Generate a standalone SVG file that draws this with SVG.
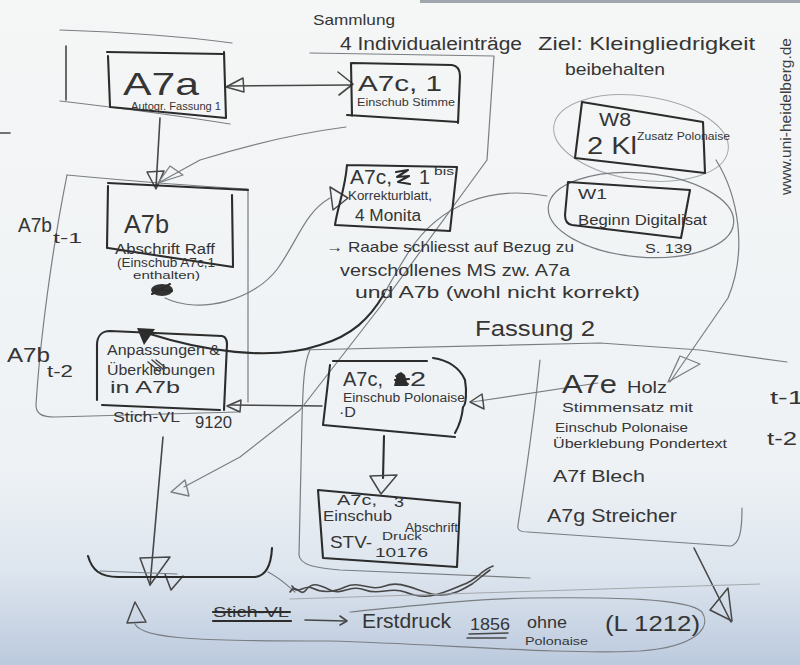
<svg xmlns="http://www.w3.org/2000/svg" width="800" height="665" viewBox="0 0 800 665">
<defs>
<linearGradient id="paper" x1="0" y1="0" x2="0" y2="1">
<stop offset="0" stop-color="#f5f6f6"/>
<stop offset="0.7" stop-color="#eef2f5"/>
<stop offset="0.86" stop-color="#dde5ee"/>
<stop offset="1" stop-color="#bccade"/>
</linearGradient>
<style>
.t{font-family:"Liberation Sans",Arial,sans-serif;fill:#353535}
.ln{fill:none;stroke:#474747;stroke-width:1.6;stroke-linecap:round;stroke-linejoin:round}
.dk{fill:none;stroke:#2c2c2c;stroke-width:2.1;stroke-linecap:round;stroke-linejoin:round}
.md{fill:none;stroke:#7a7e83;stroke-width:1.2;stroke-linecap:round;stroke-linejoin:round}
.fa{fill:none;stroke:#a4a8ac;stroke-width:1;stroke-linecap:round;stroke-linejoin:round}
.hd{fill:none;stroke:#474747;stroke-width:1.5;stroke-linejoin:round}
.hm{fill:none;stroke:#7a7e83;stroke-width:1.3;stroke-linejoin:round}
.wm{font-family:"Liberation Sans",Arial,sans-serif;fill:#3d3d3d;font-size:14px}
</style>
</defs>

<!-- paper sheet -->
<rect width="800" height="665" fill="url(#paper)"/>
<rect x="420" y="0" width="380" height="3" fill="#a0a6ae"/>
<path class="ln" d="M0 133 L10 133"/>
<text class="wm" transform="translate(791,195) rotate(-90)" textLength="157" lengthAdjust="spacingAndGlyphs">www.uni-heidelberg.de</text>

<!-- region outlines -->
<g id="regions">
  <!-- Fassung 1 frame round A7a -->
  <path class="md" d="M60 30 C120 32 180 36 232 43"/>
  <path class="ln" d="M66 46 L66 100"/>
  <path class="md" d="M60 101 C120 108 180 116 230 124"/>
  <!-- A7b frame -->
  <path class="md" d="M67 175 C110 179 190 186 248 189 L248 402"/>
  <path class="md" d="M67 175 C52 250 40 340 36 405 C36 414 42 417 55 417 L238 412"/>
  <!-- Fassung 2 frame -->
  <path class="md" d="M300 350 L600 343 L700 350 L787 362"/>
  <path class="md" d="M310 350 C304 362 303 385 302 420 L299 555 C300 565 315 568 340 570 L530 578"/>
  <!-- A7e / A7f / A7g frame -->
  <path class="md" d="M540 360 C536 400 525 480 518 525 C517 530 520 532 528 532 L730 546 C740 545 742 530 742 508"/>
  <!-- W8 / W1 ovals -->
  <ellipse class="fa" cx="641" cy="138" rx="88" ry="42" transform="rotate(8 641 138)"/>
  <ellipse class="md" cx="641" cy="215" rx="93" ry="42" transform="rotate(5 641 215)"/>
  <!-- bottom oval round the print -->
  <path class="md" d="M135 624 C142 640 210 641 330 641 C440 644 560 655 640 651 C695 647 712 628 702 612 C688 598 610 597 530 598 C470 599 410 606 350 612"/>
</g>

<!-- connectors -->
<g id="connectors">
  <!-- A7a <-> A7c,1 -->
  <path class="ln" d="M228 86 L351 85"/>
  <polygon class="hd" points="226,87 243,78 244,92"/>
  <path class="ln" d="M338 72 L353 84 L339 95"/>
  <!-- A7a -> A7b -->
  <path class="ln" d="M160 118 L156 187"/>
  <polygon class="hd" points="147,172 164,171 156,189"/>
  <!-- A7c,1 -> A7b -->
  <path class="md" d="M346 127 C300 133 245 146 200 160 L160 182"/>
  <polygon class="hm" points="158,183 170,166 183,175"/>
  <!-- A7b -> Korrekturblatt -->
  <path class="md" d="M165 298 C200 315 255 300 278 268 C298 240 305 212 330 198"/>
  <polygon class="hd" points="348,198 330,187 333,210"/>
  <!-- W1 -> Anpassungen -->
  <path class="md" d="M547 196 C490 185 440 205 410 250 C400 265 392 280 384 294"/>
  <path class="dk" d="M384 294 C370 318 352 336 320 345 C270 362 200 350 150 334"/>
  <polygon points="137,328 155,329 144,345" fill="#2c2c2c"/>
  <!-- A7c,2 -> Anpassungen -->
  <path class="ln" d="M322 406 L230 405"/>
  <polygon class="hd" points="227,406 241,400 240,412"/>
  <!-- A7e -> A7c,2 -->
  <path class="md" d="M598 383 L472 402"/>
  <polygon class="hd" points="470,402 482,394 484,409"/>
  <!-- A7c,2 -> A7c,3 -->
  <path class="dk" d="M384 436 L383 478"/>
  <polygon class="hd" points="370,476 397,475 381,494"/>
  <!-- Sammlung line down to A7b -->
  <path class="md" d="M310 53 L494 56 L487 160 L380 307 L300 410 L240 457 L184 487"/>
  <polygon class="hm" points="171,492 185,480 189,496"/>
  <!-- W8 -> A7e -->
  <path class="md" d="M716 160 C738 195 748 250 728 298 L670 382"/>
  <polygon class="hm" points="668,382 680,356 700,364"/>
  <!-- Fassung 2 -> down -->
  <path class="ln" d="M694 548 L731 622"/>
  <polygon class="hd" points="710,610 728,588 732,621"/>
  <!-- Stich-VL -> junction -->
  <path class="ln" d="M163 437 L150 585"/>
  <polygon class="hd" points="140,558 170,557 150,585"/>
  <path class="ln" d="M165 574 L171 590 L183 576"/>
  <!-- junction bracket -->
  <path class="dk" d="M88 556 C92 570 100 577 118 577 L255 577 C265 576 271 567 272 548"/>
  <path class="md" d="M100 571 L177 574"/>
  <path class="md" d="M268 572 C280 578 288 586 295 592"/>
  <path class="ln" d="M290 592 C296 582 300 598 306 590 S318 584 330 590 S350 584 365 590 S390 586 405 592 S430 598 450 590 S470 582 478 576 C482 572 488 568 493 566"/>
  <path class="ln" d="M292 586 C298 596 304 584 312 588 S330 594 345 587 S370 592 385 586 S415 590 432 594 S462 590 472 584 C478 580 484 574 490 570"/>
  <path class="fa" d="M290 599 L760 584"/>
  <!-- print arrow -->
  <path class="ln" d="M305 620 L346 621"/>
  <path class="ln" d="M340 616 L347 621 L340 625"/>
  <polygon class="hd" points="127,623 146,622 135,602"/>
</g>

<!-- A7a -->
<g id="a7a">
  <path class="dk" d="M107 52 L223 54 M108 56 L110 106 M110 107 L226 118 M224 52 L226 118"/>
  <text class="t" x="123" y="95" font-size="32" textLength="76" lengthAdjust="spacingAndGlyphs">A7a</text>
  <text class="t" x="131" y="110" font-size="11" textLength="90" lengthAdjust="spacingAndGlyphs">Autogr. Fassung 1</text>
</g>

<!-- A7c,1 -->
<g id="a7c1">
  <path class="dk" d="M351 63 L352 116 M352 63 L452 65 C458 66 460 70 460 76 L458 123 M347 115 L458 122"/>
  <text class="t" x="358" y="91" font-size="22" textLength="84" lengthAdjust="spacingAndGlyphs">A7c, 1</text>
  <text class="t" x="357" y="106" font-size="11" textLength="98" lengthAdjust="spacingAndGlyphs">Einschub Stimme</text>
</g>

<!-- heading texts -->
<g id="headings">
  <text class="t" x="313" y="25" font-size="15" textLength="82" lengthAdjust="spacingAndGlyphs">Sammlung</text>
  <text class="t" x="340" y="50" font-size="18" textLength="182" lengthAdjust="spacingAndGlyphs">4 Individualeinträge</text>
  <text class="t" x="538" y="50" font-size="19" textLength="217" lengthAdjust="spacingAndGlyphs">Ziel: Kleingliedrigkeit</text>
  <text class="t" x="565" y="75" font-size="17" textLength="100" lengthAdjust="spacingAndGlyphs">beibehalten</text>
  <text class="t" x="475" y="336" font-size="22" textLength="120" lengthAdjust="spacingAndGlyphs">Fassung 2</text>
</g>

<!-- Korrekturblatt -->
<g id="a7c1bis">
  <path class="dk" d="M347 165 L457 167 L450 231 L335 225 C338 205 345 190 347 165"/>
  <text class="t" x="350" y="184" font-size="20" textLength="42" lengthAdjust="spacingAndGlyphs">A7c,</text>
  <path class="dk" d="M396 172 L408 170 L397 177 L409 176 L398 182 L410 184"/>
  <text class="t" x="419" y="184" font-size="20" textLength="11" lengthAdjust="spacingAndGlyphs">1</text>
  <text class="t" x="434" y="175" font-size="10" textLength="20" lengthAdjust="spacingAndGlyphs">bis</text>
  <text class="t" x="348" y="200" font-size="13" textLength="84" lengthAdjust="spacingAndGlyphs">Korrekturblatt,</text>
  <text class="t" x="355" y="221" font-size="16" textLength="66" lengthAdjust="spacingAndGlyphs">4 Monita</text>
</g>

<!-- note on Raabe -->
<g id="note">
  <text class="t" x="326" y="252" font-size="15" textLength="248" lengthAdjust="spacingAndGlyphs">→ Raabe schliesst auf Bezug zu</text>
  <text class="t" x="340" y="276" font-size="16" textLength="230" lengthAdjust="spacingAndGlyphs">verschollenes MS zw. A7a</text>
  <text class="t" x="355" y="298" font-size="16" textLength="285" lengthAdjust="spacingAndGlyphs">und A7b (wohl nicht korrekt)</text>
</g>

<!-- W8 -->
<g id="w8">
  <path class="dk" d="M582 102 L703 122 L705 173 L575 158 Z"/>
  <text class="t" x="599" y="126" font-size="18" textLength="32" lengthAdjust="spacingAndGlyphs">W8</text>
  <text class="t" x="587" y="154" font-size="23" textLength="50" lengthAdjust="spacingAndGlyphs">2 Kl</text>
  <text class="t" x="637" y="140" font-size="10" textLength="93" lengthAdjust="spacingAndGlyphs">Zusatz Polonaise</text>
</g>

<!-- W1 -->
<g id="w1">
  <path class="dk" d="M568 182 L690 190 L681 238 L572 225 C566 224 565 220 565 215 Z"/>
  <text class="t" x="578" y="199" font-size="15" textLength="29" lengthAdjust="spacingAndGlyphs">W1</text>
  <text class="t" x="578" y="225" font-size="14" textLength="129" lengthAdjust="spacingAndGlyphs">Beginn Digitalisat</text>
  <text class="t" x="645" y="253" font-size="13" textLength="47" lengthAdjust="spacingAndGlyphs">S. 139</text>
</g>

<!-- A7b -->
<g id="a7b">
  <path class="dk" d="M108 183 L248 190 M108 186 L107 248 M232 195 L233 266 M108 248 L233 267"/>
  <text class="t" x="124" y="233" font-size="26" textLength="45" lengthAdjust="spacingAndGlyphs">A7b</text>
  <text class="t" x="115" y="254" font-size="14" textLength="100" lengthAdjust="spacingAndGlyphs">Abschrift Raff</text>
  <text class="t" x="117" y="267" font-size="12" textLength="98" lengthAdjust="spacingAndGlyphs">(Einschub A7c,1</text>
  <text class="t" x="133" y="279" font-size="11" textLength="67" lengthAdjust="spacingAndGlyphs">enthalten)</text>
  <ellipse cx="162" cy="290" rx="11" ry="6" fill="#333"/>
  <path class="dk" d="M152 294 L170 284 M154 289 L172 291"/>
  <text class="t" x="18" y="232" font-size="20" textLength="34" lengthAdjust="spacingAndGlyphs">A7b</text>
  <text class="t" x="53" y="243" font-size="14" textLength="29" lengthAdjust="spacingAndGlyphs">t-1</text>
</g>

<!-- Anpassungen in A7b -->
<g id="anpassungen">
  <path class="dk" d="M97 400 L97 345 C97 336 102 331 110 331 L222 336 C226 337 227 340 227 344 L224 410 M102 405 L220 410"/>
  <text class="t" x="107" y="355" font-size="15" textLength="113" lengthAdjust="spacingAndGlyphs">Anpassungen &amp;</text>
  <text class="t" x="107" y="375" font-size="15" textLength="108" lengthAdjust="spacingAndGlyphs">Überklebungen</text>
  <path class="ln" d="M148 362 L160 372 M152 360 L164 370 M156 360 L166 368"/>
  <text class="t" x="110" y="393" font-size="16" textLength="70" lengthAdjust="spacingAndGlyphs">in A7b</text>
  <text class="t" x="113" y="422" font-size="15" textLength="67" lengthAdjust="spacingAndGlyphs">Stich-VL</text>
  <text class="t" x="195" y="428" font-size="16" textLength="37" lengthAdjust="spacingAndGlyphs">9120</text>
  <text class="t" x="7" y="362" font-size="20" textLength="43" lengthAdjust="spacingAndGlyphs">A7b</text>
  <text class="t" x="47" y="377" font-size="16" textLength="26" lengthAdjust="spacingAndGlyphs">t-2</text>
</g>

<!-- A7c,2 -->
<g id="a7c2">
  <path class="dk" d="M330 365 L323 425 L455 437 M333 361 L427 361 M433 358 C448 360 460 368 465 380 C467 392 466 405 463 407 C462 418 459 426 455 433"/>
  <text class="t" x="343" y="386" font-size="20" textLength="40" lengthAdjust="spacingAndGlyphs">A7c,</text>
  <path d="M394 386 L397 374 L401 372 L405 375 L408 386 Z" fill="#2c2c2c"/>
  <path class="dk" d="M395 380 L409 379 M396 376 L408 384"/>
  <text class="t" x="410" y="386" font-size="20" textLength="16" lengthAdjust="spacingAndGlyphs">2</text>
  <text class="t" x="343" y="402" font-size="12" textLength="122" lengthAdjust="spacingAndGlyphs">Einschub Polonaise</text>
  <text class="t" x="339" y="417" font-size="14" textLength="17" lengthAdjust="spacingAndGlyphs">·D</text>
</g>

<!-- A7c,3 -->
<g id="a7c3">
  <path class="dk" d="M318 490 L460 503 L457 567 L323 558 Z"/>
  <text class="t" x="337" y="505" font-size="15" textLength="40" lengthAdjust="spacingAndGlyphs">A7c,</text>
  <text class="t" x="394" y="507" font-size="14" textLength="10" lengthAdjust="spacingAndGlyphs">3</text>
  <text class="t" x="323" y="521" font-size="14" textLength="69" lengthAdjust="spacingAndGlyphs">Einschub</text>
  <text class="t" x="405" y="532" font-size="12" textLength="53" lengthAdjust="spacingAndGlyphs">Abschrift</text>
  <text class="t" x="330" y="548" font-size="17" textLength="42" lengthAdjust="spacingAndGlyphs">STV-</text>
  <text class="t" x="382" y="540" font-size="11" textLength="40" lengthAdjust="spacingAndGlyphs">Druck</text>
  <text class="t" x="375" y="557" font-size="13" textLength="53" lengthAdjust="spacingAndGlyphs">10176</text>
</g>

<!-- A7e / A7f / A7g -->
<g id="a7efg">
  <text class="t" x="562" y="393" font-size="26" textLength="55" lengthAdjust="spacingAndGlyphs">A7e</text>
  <text class="t" x="627" y="393" font-size="16" textLength="40" lengthAdjust="spacingAndGlyphs">Holz</text>
  <text class="t" x="562" y="412" font-size="13" textLength="131" lengthAdjust="spacingAndGlyphs">Stimmensatz mit</text>
  <text class="t" x="555" y="432" font-size="13" textLength="133" lengthAdjust="spacingAndGlyphs">Einschub Polonaise</text>
  <text class="t" x="553" y="448" font-size="13" textLength="174" lengthAdjust="spacingAndGlyphs">Überklebung Pondertext</text>
  <text class="t" x="553" y="482" font-size="16" textLength="92" lengthAdjust="spacingAndGlyphs">A7f Blech</text>
  <text class="t" x="547" y="522" font-size="18" textLength="130" lengthAdjust="spacingAndGlyphs">A7g Streicher</text>
  <text class="t" x="770" y="404" font-size="18" textLength="34" lengthAdjust="spacingAndGlyphs">t-1</text>
  <text class="t" x="767" y="445" font-size="18" textLength="30" lengthAdjust="spacingAndGlyphs">t-2</text>
</g>

<!-- first print -->
<g id="erstdruck">
  <text class="t" x="213" y="617" font-size="14" textLength="76" lengthAdjust="spacingAndGlyphs">Stich-VL</text>
  <path class="dk" d="M213 612 L290 612"/>
  <path class="dk" d="M213 621 L291 621"/>
  <text class="t" x="362" y="628" font-size="20" textLength="89" lengthAdjust="spacingAndGlyphs">Erstdruck</text>
  <text class="t" x="470" y="630" font-size="17" textLength="40" lengthAdjust="spacingAndGlyphs">1856</text>
  <path class="ln" d="M469 634 L508 633 M467 638 L506 638"/>
  <text class="t" x="527" y="628" font-size="16" textLength="40" lengthAdjust="spacingAndGlyphs">ohne</text>
  <text class="t" x="525" y="645" font-size="11" textLength="63" lengthAdjust="spacingAndGlyphs">Polonaise</text>
  <text class="t" x="605" y="631" font-size="22" textLength="95" lengthAdjust="spacingAndGlyphs">(L 1212)</text>
</g>
</svg>
